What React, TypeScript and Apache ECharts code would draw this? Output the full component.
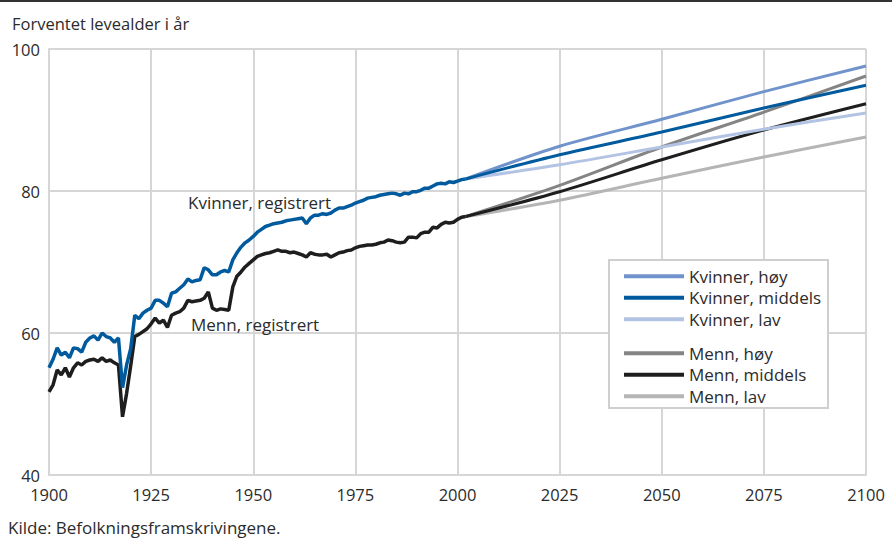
import React, { useEffect, useRef } from "react";
import * as echarts from "echarts";

const histYears: number[] = Array.from({ length: 103 }, (_, i) => 1900 + i);

const womenRegistered: number[] = [
  55.1, 56.3, 57.9, 56.9, 57.3, 56.5, 57.9, 57.8, 57.3, 58.7,
  59.3, 59.6, 59.0, 60.0, 59.5, 59.3, 58.7, 59.3, 52.3, 55.5,
  57.8, 62.5, 62.0, 62.8, 63.2, 63.5, 64.6, 64.6, 64.2, 63.7,
  65.6, 65.8, 66.3, 66.8, 67.6, 67.2, 67.4, 67.5, 69.2, 68.9,
  68.2, 68.2, 68.6, 68.8, 68.6, 70.3, 71.3, 72.1, 72.7, 73.1,
  73.6, 74.2, 74.6, 75.0, 75.2, 75.4, 75.5, 75.6, 75.8, 75.9,
  76.0, 76.1, 76.2, 75.4, 76.2, 76.6, 76.6, 76.8, 76.7, 76.9,
  77.3, 77.6, 77.6, 77.8, 78.0, 78.3, 78.5, 78.7, 79.0, 79.1,
  79.2, 79.4, 79.5, 79.6, 79.7, 79.6, 79.4, 79.7, 79.6, 79.9,
  79.9, 80.1, 80.4, 80.4, 80.7, 81.0, 81.1, 81.0, 81.3, 81.2,
  81.4, 81.6, 81.7,
];

const menRegistered: number[] = [
  51.7, 52.7, 54.8, 54.1, 55.1, 53.8, 55.1, 55.8, 55.5, 56.0,
  56.2, 56.3, 56.0, 56.5, 56.0, 56.2, 55.8, 55.5, 48.2, 51.5,
  55.4, 59.5, 59.8, 60.2, 60.6, 61.3, 62.1, 61.4, 61.8, 60.8,
  62.5, 62.8, 63.0, 63.5, 64.6, 64.4, 64.5, 64.6, 64.9, 65.8,
  63.5, 63.2, 63.4, 63.3, 63.2, 66.5, 68.0, 68.6, 69.3, 69.8,
  70.3, 70.8, 71.0, 71.2, 71.3, 71.5, 71.7, 71.5, 71.5, 71.3,
  71.4, 71.2, 71.0, 70.7, 71.3, 71.1, 71.0, 71.0, 71.1, 70.7,
  71.0, 71.3, 71.4, 71.6, 71.7, 72.0, 72.2, 72.3, 72.4, 72.4,
  72.5, 72.7, 72.8, 73.1, 73.0, 72.8, 72.7, 72.8, 73.5, 73.5,
  73.4, 74.0, 74.2, 74.2, 74.9, 74.8, 75.3, 75.6, 75.5, 75.6,
  76.0, 76.3, 76.4,
];

const projYears: number[] = [2002, 2025, 2050, 2075, 2100];
const kvinnerHoy: number[] = [81.7, 86.3, 90.1, 94.0, 97.6];
const kvinnerMiddels: number[] = [81.7, 85.1, 88.3, 91.7, 94.9];
const kvinnerLav: number[] = [81.7, 83.7, 86.2, 88.7, 91.0];
const mennHoy: number[] = [76.4, 80.8, 86.2, 91.1, 96.2];
const mennMiddels: number[] = [76.4, 79.9, 84.4, 88.6, 92.3];
const mennLav: number[] = [76.4, 78.7, 81.8, 84.8, 87.6];

const xTicks = { min: 1900, max: 2100, interval: 25 };
const yTicks = { min: 40, max: 100, interval: 20 };

const FONT = "'Open Sans', 'Noto Sans', sans-serif";
const TEXT = "#2b2b2b";
const GRID = "#d6d6d6";

const pair = (xs: number[], ys: number[]) => xs.map((x, i) => [x, ys[i]]);

export default function App() {
  const ref = useRef<HTMLDivElement>(null);
  useEffect(() => {
    if (!ref.current) return;
    const chart = echarts.init(ref.current, undefined, { renderer: "svg" });
    const proj = (name: string, ys: number[], color: string, z = 2) => ({
      name,
      type: "line",
      data: pair(projYears, ys),
      smooth: 0.3,
      showSymbol: false,
      symbol: "none",
      z,
      lineStyle: { color, width: 3 },
      itemStyle: { color },
    });
    const legendText = { fontFamily: FONT, fontSize: 17, color: TEXT, lineHeight: 18.5 };
    chart.setOption({
      animation: false,
      backgroundColor: "#fff",
      textStyle: { fontFamily: FONT },
      title: {
        text: "Forventet levealder i år",
        left: 7,
        top: 10,
        textStyle: { fontFamily: FONT, fontSize: 16.5, fontWeight: "normal", color: TEXT },
      },
      grid: { left: 49, right: 26, top: 49, bottom: 63, containLabel: false },
      xAxis: {
        type: "value",
        min: xTicks.min,
        max: xTicks.max,
        interval: xTicks.interval,
        axisLine: { show: true, lineStyle: { color: GRID, width: 2 } },
        axisTick: { show: false },
        axisLabel: {
          color: TEXT,
          fontSize: 16.5,
          lineHeight: 15,
          fontFamily: FONT,
          margin: 12,
          formatter: (v: number) => String(v),
        },
        splitLine: { show: true, lineStyle: { color: GRID, width: 2 } },
      },
      yAxis: {
        type: "value",
        min: yTicks.min,
        max: yTicks.max,
        interval: yTicks.interval,
        axisLine: { show: true, lineStyle: { color: GRID, width: 2 } },
        axisTick: { show: false },
        axisLabel: {
          color: TEXT,
          fontSize: 16.5,
          lineHeight: 15,
          fontFamily: FONT,
          margin: 9,
          padding: [0, 0, 4, 0],
          formatter: (v: number) => String(v),
        },
        splitLine: { show: true, lineStyle: { color: GRID, width: 2 } },
      },
      legend: [
        {
          orient: "vertical",
          left: 619,
          top: 262,
          itemWidth: 60,
          itemHeight: 4,
          itemGap: 3,
          icon: "rect",
          data: ["Kvinner, høy", "Kvinner, middels", "Kvinner, lav"],
          textStyle: legendText,
          selectedMode: false,
        },
        {
          orient: "vertical",
          left: 619,
          top: 339,
          itemWidth: 60,
          itemHeight: 4,
          itemGap: 3,
          icon: "rect",
          data: ["Menn, høy", "Menn, middels", "Menn, lav"],
          textStyle: legendText,
          selectedMode: false,
        },
      ],
      graphic: [
        {
          type: "line",
          z: 10,
          shape: { x1: 0, y1: 1, x2: 892, y2: 1 },
          style: { stroke: "#333", lineWidth: 2 },
        },
        {
          type: "rect",
          z: 3,
          shape: { x: 609, y: 260, width: 219, height: 148 },
          style: { fill: "#fff", stroke: "#cfcfcf", lineWidth: 2 },
        },
        {
          type: "text",
          z: 5,
          x: 188,
          y: 202,
          style: { text: "Kvinner, registrert", font: `17px ${FONT}`, fill: TEXT, textVerticalAlign: "middle" },
        },
        {
          type: "text",
          z: 5,
          x: 191,
          y: 324,
          style: { text: "Menn, registrert", font: `17px ${FONT}`, fill: TEXT, textVerticalAlign: "middle" },
        },
        {
          type: "text",
          z: 5,
          x: 8,
          y: 527,
          style: { text: "Kilde: Befolkningsframskrivingene.", font: `17px ${FONT}`, fill: TEXT, textVerticalAlign: "middle" },
        },
      ],
      series: [
        proj("Menn, lav", mennLav, "#b5b5b5"),
        proj("Menn, høy", mennHoy, "#848484"),
        proj("Menn, middels", mennMiddels, "#1e1e1e"),
        proj("Kvinner, lav", kvinnerLav, "#b3c3e3"),
        proj("Kvinner, høy", kvinnerHoy, "#7093cb"),
        proj("Kvinner, middels", kvinnerMiddels, "#005a9e"),
        {
          name: "Menn, registrert",
          type: "line",
          data: pair(histYears, menRegistered),
          showSymbol: false,
          symbol: "none",
          lineStyle: { color: "#1e1e1e", width: 3.5 },
          z: 2,
        },
        {
          name: "Kvinner, registrert",
          type: "line",
          data: pair(histYears, womenRegistered),
          showSymbol: false,
          symbol: "none",
          lineStyle: { color: "#005a9e", width: 3.5 },
          z: 2,
        },
      ],
    });
    return () => chart.dispose();
  }, []);
  return <div ref={ref} style={{ width: 892, height: 538, position: "absolute", left: 0, top: 0 }} />;
}
